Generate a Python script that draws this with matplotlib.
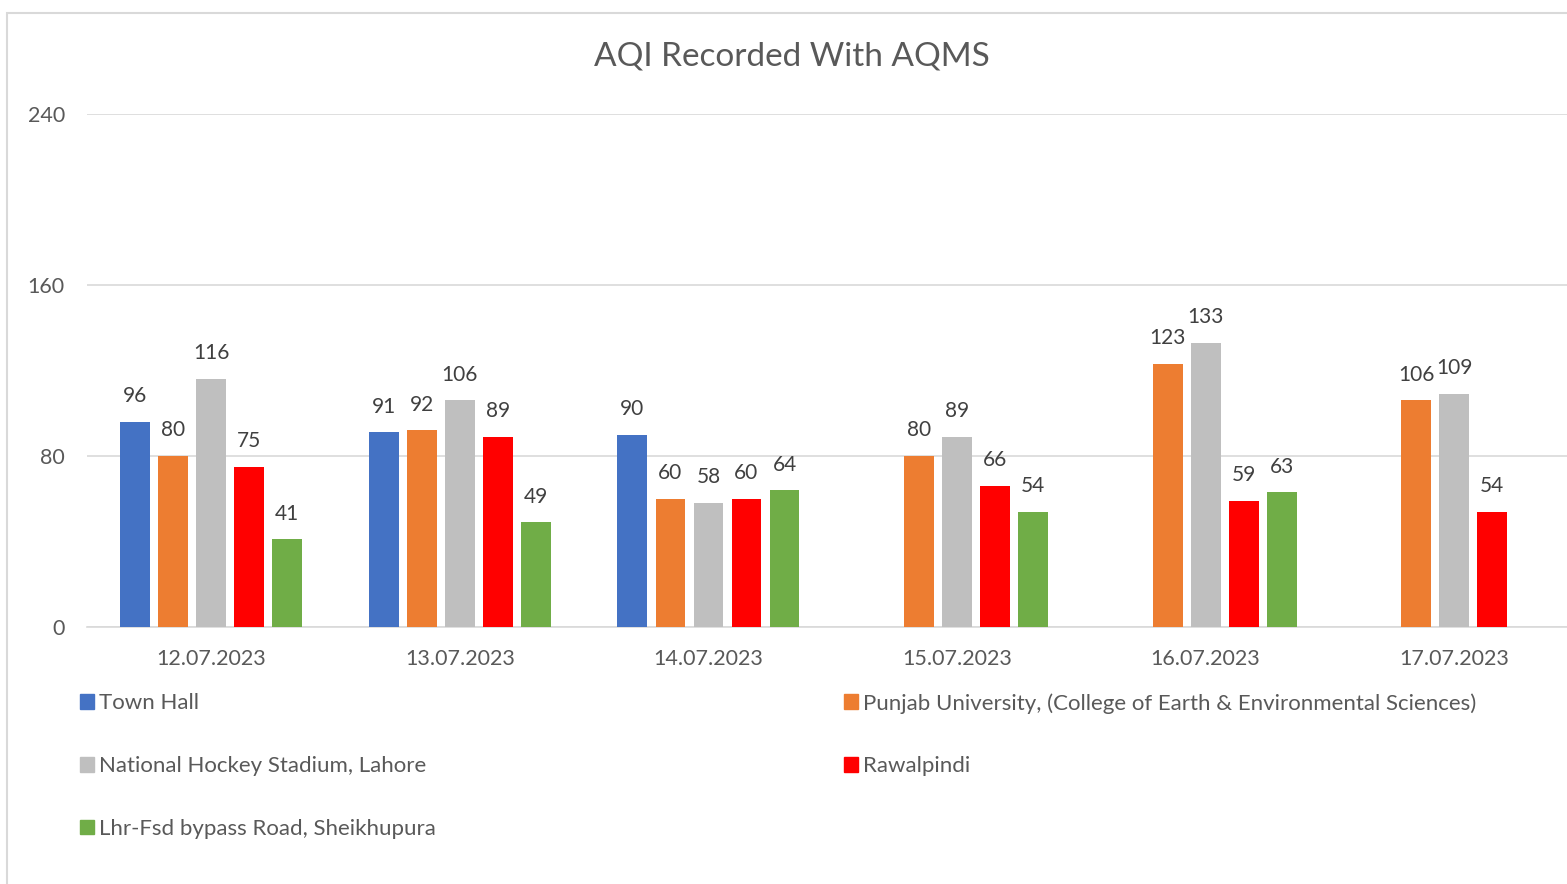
import numpy as np
import matplotlib.pyplot as plt
from matplotlib.patches import Rectangle, Patch

plt.rcParams['font.family'] = ['Lato', 'DejaVu Sans']

# Data (None = no reading that day)
dates = ['12.07.2023', '13.07.2023', '14.07.2023', '15.07.2023', '16.07.2023', '17.07.2023']
stations = ['Town Hall',
            'Punjab University, (College of Earth & Environmental Sciences)',
            'National Hockey Stadium, Lahore',
            'Rawalpindi',
            'Lhr-Fsd bypass Road, Sheikhupura']
town_hall = [96, 91, 90, None, None, None]
punjab_uni = [80, 92, 60, 80, 123, 106]
hockey_stadium = [116, 106, 58, 89, 133, 109]
rawalpindi = [75, 89, 60, 66, 59, 54]
sheikhupura = [41, 49, 64, 54, 63, None]
colors = ['#4472C4', '#ED7D31', '#BFBFBF', '#FF0000', '#70AD47']

series = [town_hall, punjab_uni, hockey_stadium, rawalpindi, sheikhupura]
text_col = '#595959'

fig = plt.figure(figsize=(15.67, 8.84), dpi=100)
# chart area border (cropped on the right and bottom)
fig.add_artist(Rectangle((7 / 1567, -0.05), 1.2, 1.05 - 13 / 884, transform=fig.transFigure,
                         fill=False, edgecolor='#D9D9D9', linewidth=1.5))

ax = fig.add_axes([87 / 1567, 1 - 627 / 884, 1491.5 / 1567, 513 / 884])

x = np.arange(len(dates))
w = 0.12
step = 0.153
for i, (vals, c) in enumerate(zip(series, colors)):
    off = (i - 2) * step
    for j, v in enumerate(vals):
        if v is None:
            continue
        ax.bar(x[j] + off, v, width=w, color=c, zorder=3)
        ax.annotate(str(v), (x[j] + off, v), xytext=(0, 18.5), textcoords='offset points',
                    ha='center', va='center', fontsize=15, color='#404040')

ax.set_xlim(-0.5, len(dates) - 0.5)
ax.set_ylim(0, 240)
ax.set_yticks([0, 80, 160, 240])
ax.set_xticks(x)
ax.set_xticklabels(dates)
ax.tick_params(axis='both', length=0, labelsize=15.5, colors=text_col)
ax.tick_params(axis='y', pad=16)
ax.tick_params(axis='x', pad=16)
ax.grid(axis='y', color='#D9D9D9', linewidth=1.2, zorder=0)
for s in ['top', 'right', 'left']:
    ax.spines[s].set_visible(False)
ax.spines['bottom'].set_color('#D9D9D9')
ax.spines['bottom'].set_linewidth(1.2)

fig.text(792 / 1567, 1 - 57 / 884, 'AQI Recorded With AQMS', ha='center', va='center',
         fontsize=24, color=text_col)

# legend in two columns, row-major like the original
handles = [Patch(color=c) for c in colors]
left = [0, 2, 4]
right = [1, 3]
kw = dict(frameon=False, fontsize=16, labelcolor=text_col, handlelength=0.65, handleheight=0.65,
          handletextpad=0.2, labelspacing=1.93, borderaxespad=0, borderpad=0)
leg1 = fig.legend([handles[i] for i in left], [stations[i] for i in left],
                  loc='upper left', bbox_to_anchor=(80 / 1567, 1 - 693 / 884), **kw)
leg2 = fig.legend([handles[i] for i in right], [stations[i] for i in right],
                  loc='upper left', bbox_to_anchor=(844 / 1567, 1 - 693 / 884), **kw)

fig.savefig('out.png', dpi=100)
